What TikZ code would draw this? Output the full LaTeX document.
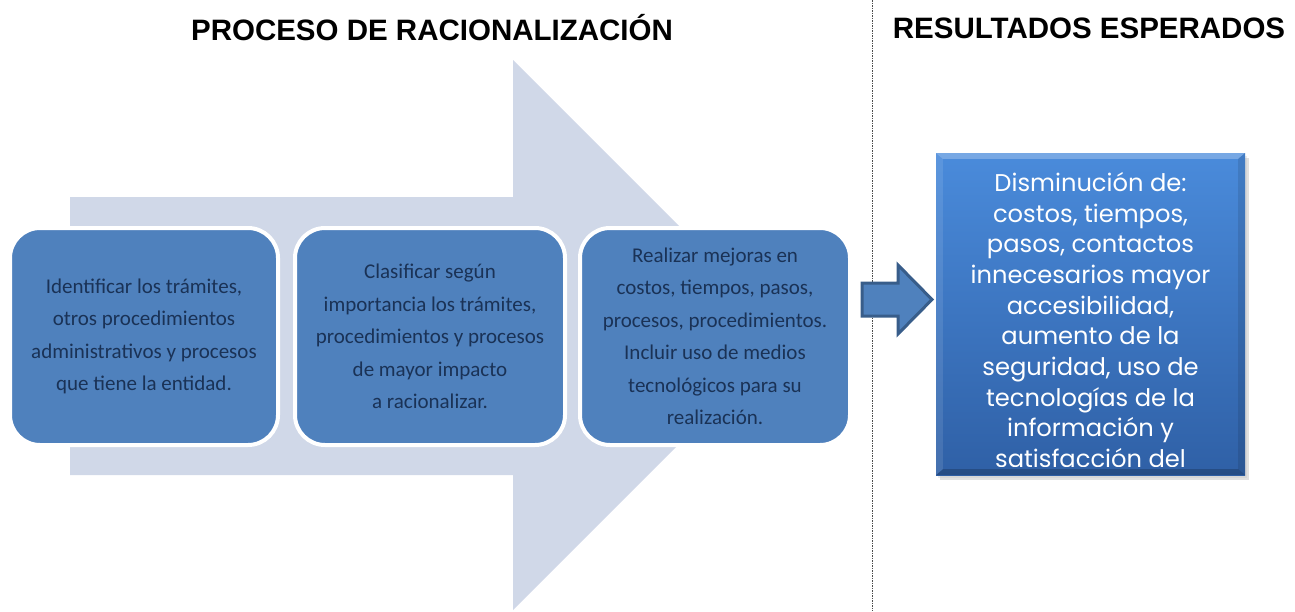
\documentclass[tikz,border=0pt]{standalone}
\usepackage{fontspec}
\setmainfont{Carlito}
\newfontfamily\titlefont{Liberation Sans}
\newfontfamily\resfont{Poppins}
\usetikzlibrary{shadows}
\definecolor{arrowbg}{HTML}{D0D8E8}
\definecolor{boxblue}{HTML}{4F81BD}
\definecolor{boxtext}{HTML}{1A3256}
\definecolor{restop}{HTML}{4A8BDB}
\definecolor{resbot}{HTML}{2F60A6}
\definecolor{arrowedge}{HTML}{385D8A}
\tikzset{
  titletext/.style={font=\titlefont\bfseries\fontsize{29.5}{34}\selectfont, text=black, inner sep=0pt},
  stepbox/.style={rectangle, rounded corners=30pt, fill=boxblue, draw=white, line width=4pt,
    minimum height=217pt, text=boxtext, align=center, inner sep=0pt,
    font=\fontsize{21}{32.5}\selectfont},
  resbox/.style={rectangle, minimum width=309pt, minimum height=322pt, top color=restop, bottom color=resbot, draw=none, inner sep=0pt},
  restext/.style={text=white, align=center, inner sep=0pt, font=\resfont\fontsize{24.2}{30.7}\selectfont},
  bigarrow/.style={fill=arrowbg, draw=none},
  smallarrow/.style={fill=boxblue, draw=arrowedge, line width=3pt, line join=miter},
  divider/.style={draw=black!70, line width=0.8pt, dash pattern=on 1.5pt off 1pt},
}
\begin{document}
\begin{tikzpicture}[x=1pt,y=-1pt]
\useasboundingbox (0,0) rectangle (1295,611);
% titles
\node[titletext] (t1) at (432,28) {PROCESO DE RACIONALIZACIÓN};
\node[titletext] (t2) at (1089,28) {RESULTADOS ESPERADOS};
% divider
\coordinate (dtop) at (872,0);
\coordinate (dbot) at (872,611);
\draw[divider] (dtop) -- (dbot);
% big arrow
\path[bigarrow] (70,197) -- (513,197) -- (513,60) -- (788,335) -- (513,610) -- (513,475) -- (70,475) -- cycle;
% step boxes
\node[stepbox, minimum width=268pt] (b1) at (144,336.5) {Identificar los trámites,\\otros procedimientos\\administrativos y procesos\\que tiene la entidad.};
\node[stepbox, minimum width=270pt] (b2) at (430,336.5) {Clasificar según\\importancia los trámites,\\procedimientos y procesos\\de mayor impacto\\a racionalizar.};
\node[stepbox, minimum width=270pt] (b3) at (715,336.5) {Realizar mejoras en\\costos, tiempos, pasos,\\procesos, procedimientos.\\Incluir uso de medios\\tecnológicos para su\\realización.};
% small arrow
\path[smallarrow] (862,283) -- (898,283) -- (898,265) -- (932,299.5) -- (898,334) -- (898,316) -- (862,316) -- cycle;
% result box
\fill[black!35, opacity=0.35] (940,158) rectangle (1249,480);
\fill[black!25, opacity=0.3] (938,156) rectangle (1247,478);
\node[resbox] (res) at (1090.5,314) {};
\fill[white, opacity=0.25] (res.north west) -- (res.north east) -- ([xshift=-7pt,yshift=-6pt]res.north east) -- ([xshift=7pt,yshift=-6pt]res.north west) -- cycle;
\fill[black, opacity=0.2] (res.south west) -- (res.south east) -- ([xshift=-7pt,yshift=6pt]res.south east) -- ([xshift=7pt,yshift=6pt]res.south west) -- cycle;
\fill[black, opacity=0.1] (res.north east) -- (res.south east) -- ([xshift=-7pt,yshift=6pt]res.south east) -- ([xshift=-7pt,yshift=-6pt]res.north east) -- cycle;
\fill[white, opacity=0.1] (res.north west) -- (res.south west) -- ([xshift=7pt,yshift=6pt]res.south west) -- ([xshift=7pt,yshift=-6pt]res.north west) -- cycle;
\begin{scope}
\clip (940,157) rectangle (1241,466);
\node[restext, anchor=north] (rt) at (1090.5,172) {Disminución de:\\costos, tiempos,\\pasos, contactos\\innecesarios mayor\\accesibilidad,\\aumento de la\\seguridad, uso de\\tecnologías de la\\información y\\satisfacción del\\usuario.};
\end{scope}
\end{tikzpicture}
\end{document}
